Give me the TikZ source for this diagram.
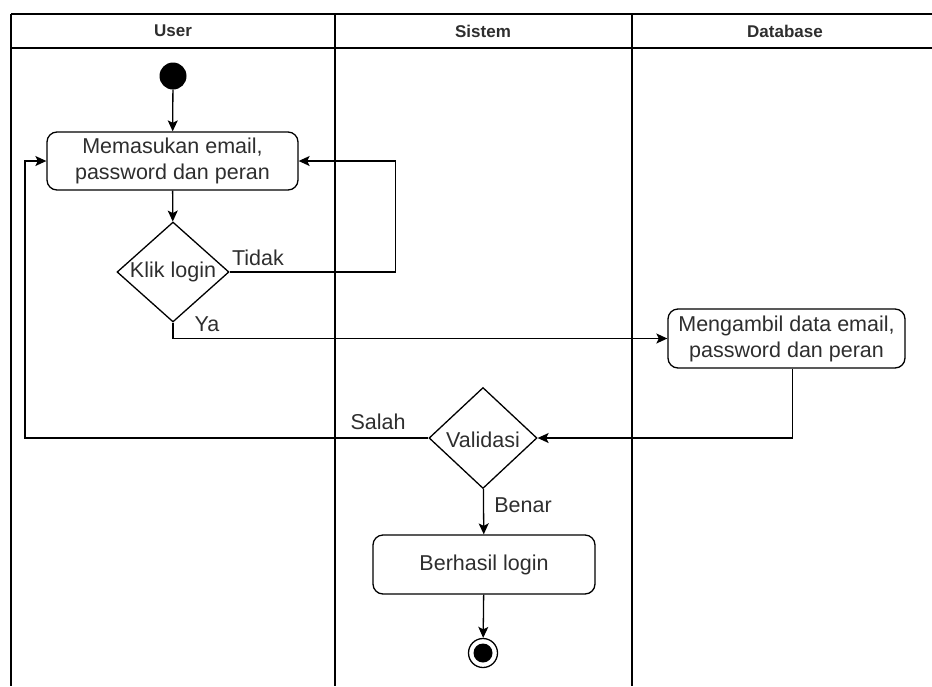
\documentclass[tikz,border=0pt]{standalone}
\usepackage{fontspec}
\setmainfont{Liberation Sans}
\usetikzlibrary{shapes.geometric,arrows.meta,calc}
\definecolor{txt}{HTML}{2E2E2E}
\tikzset{
  lane/.style={line width=1.4pt, draw=black},
  hdr/.style={font=\bfseries\fontsize{17}{20}\selectfont, text=txt},
  act/.style={draw=black, line width=1.3pt, rounded corners=10pt, align=center,
     font=\fontsize{21.5}{26}\selectfont, text=txt, inner sep=0pt},
  dia/.style={draw=black, line width=1.3pt, diamond, inner sep=0pt},
  lbl/.style={font=\fontsize{21.5}{26}\selectfont, text=txt, inner sep=0pt},
  arr/.style={line width=1.3pt, -{Stealth[length=11pt,width=10pt,inset=2.5pt]}},
  ln/.style={line width=1.3pt},
}
\begin{document}
\begin{tikzpicture}[x=1pt,y=-1pt]
\useasboundingbox (0,0) rectangle (932,686);
% swimlanes
\draw[lane] (11,14) -- (932,14);
\draw[lane] (11,48) -- (932,48);
\draw[lane] (11,14) -- (11,686);
\draw[lane] (335,14) -- (335,686);
\draw[lane] (632,14) -- (632,686);
\node[hdr] (hU) at (173,31) {User};
\node[hdr] (hS) at (483,31) {Sistem};
\node[hdr] (hD) at (785,31) {Database};
% nodes
\node[circle, fill=black, minimum size=27pt, inner sep=0pt] (start) at (173,76) {};
\node[act, minimum width=251pt, minimum height=58pt] (a1) at (172.5,161) {Memasukan email,\\password dan peran};
\node[dia, minimum width=112pt, minimum height=100pt] (d1) at (173,272) {};
\node[lbl] (d1t) at (173,272) {Klik login};
\node[act, minimum width=237pt, minimum height=59pt] (db) at (786.5,338.5) {Mengambil data email,\\password dan peran};
\node[dia, minimum width=108pt, minimum height=101pt] (d2) at (483,438) {};
\node[lbl] (d2t) at (483,440) {Validasi};
\node[act, minimum width=222pt, minimum height=59pt] (a3) at (484,564.5) {Berhasil login};
\node[circle, draw=black, line width=1.3pt, minimum size=29pt, inner sep=0pt] (end) at (483,653) {};
\node[circle, fill=black, minimum size=19pt, inner sep=0pt] (endin) at (end) {};
% labels
\node[lbl] (lt) at (258,258) {Tidak};
\node[lbl] (ly) at (207,324) {Ya};
\node[lbl] (ls) at (378,422) {Salah};
\node[lbl] (lb) at (523,505) {Benar};
% connectors
\draw[arr] (start) -- (a1);
\draw[arr] (a1) -- (d1);
\draw[arr] (d1.east) -- ++(166,0) |- (a1.east);
\draw[arr] (d1.south) |- (db.west);
\draw[arr] ([xshift=6pt]db.south) |- (d2.east);
\draw[arr] (d2.west) -- (25,438) |- (a1.west);
\draw[arr] (d2) -- (a3);
\draw[arr] (a3) -- (end);
\end{tikzpicture}
\end{document}
